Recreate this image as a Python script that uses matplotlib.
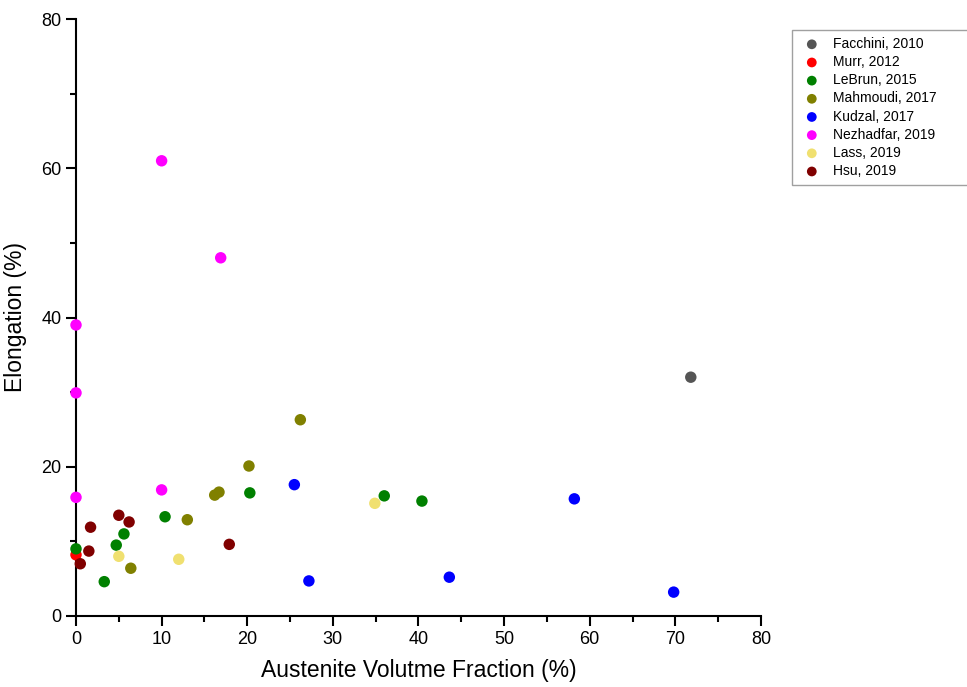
import matplotlib.pyplot as plt
from matplotlib.ticker import MultipleLocator

plt.rcParams['font.family'] = ['Liberation Sans', 'DejaVu Sans']

# data (austenite %, elongation %)
facchini_x = [71.8]
facchini_y = [32.0]
murr_x = [0.0]
murr_y = [8.2]
lebrun_x = [0.0, 3.3, 4.7, 5.6, 10.4, 20.3, 36.0, 40.4]
lebrun_y = [9.0, 4.6, 9.5, 11.0, 13.3, 16.5, 16.1, 15.4]
mahmoudi_x = [6.4, 13.0, 16.2, 16.7, 20.2, 26.2]
mahmoudi_y = [6.4, 12.9, 16.2, 16.6, 20.1, 26.3]
kudzal_x = [25.5, 27.2, 43.6, 58.2, 69.8]
kudzal_y = [17.6, 4.7, 5.2, 15.7, 3.2]
nezhadfar_x = [0.0, 0.0, 0.0, 10.0, 16.9, 10.0]
nezhadfar_y = [39.0, 29.9, 15.9, 61.0, 48.0, 16.9]
lass_x = [5.0, 12.0, 34.9]
lass_y = [8.0, 7.6, 15.1]
hsu_x = [0.5, 1.5, 1.7, 5.0, 6.2, 17.9]
hsu_y = [7.0, 8.7, 11.9, 13.5, 12.6, 9.6]

series = [
    ('Facchini, 2010', facchini_x, facchini_y, '#555555'),
    ('Murr, 2012', murr_x, murr_y, '#ff0000'),
    ('LeBrun, 2015', lebrun_x, lebrun_y, '#008000'),
    ('Mahmoudi, 2017', mahmoudi_x, mahmoudi_y, '#808000'),
    ('Kudzal, 2017', kudzal_x, kudzal_y, '#0000ff'),
    ('Nezhadfar, 2019', nezhadfar_x, nezhadfar_y, '#ff00ff'),
    ('Lass, 2019', lass_x, lass_y, '#f0e070'),
    ('Hsu, 2019', hsu_x, hsu_y, '#800000'),
]

W, H = 967, 687
fig = plt.figure(figsize=(W / 100, H / 100), dpi=100)
ax = fig.add_axes([76 / W, 1 - 616 / H, 685 / W, 597 / H])

for name, xs, ys, c in series:
    ax.scatter(xs, ys, s=68, color=c, label=name, edgecolors='none', zorder=3, clip_on=False)

ax.set_xlim(0, 80)
ax.set_ylim(0, 80)
ax.xaxis.set_major_locator(MultipleLocator(10))
ax.xaxis.set_minor_locator(MultipleLocator(5))
ax.yaxis.set_major_locator(MultipleLocator(20))
ax.yaxis.set_minor_locator(MultipleLocator(10))
ax.spines['top'].set_visible(False)
ax.spines['right'].set_visible(False)
for s in ['left', 'bottom']:
    ax.spines[s].set_linewidth(1.5)
ax.tick_params(which='major', direction='out', length=7, width=1.5, labelsize=13)
ax.tick_params(which='minor', direction='out', length=4, width=1.5)

ax.set_xlabel('Austenite Volutme Fraction (%)', fontsize=16.5, labelpad=8)
ax.set_ylabel('Elongation (%)', fontsize=16.5, labelpad=10)

# legend box sits outside the axes and runs off the right edge
leg = fig.legend(loc='upper left', mode='expand',
                 bbox_to_anchor=(792 / W, 1 - 183 / H, 185 / W, 153 / H),
                 fontsize=10, frameon=True, fancybox=False, edgecolor='#888888',
                 handletextpad=0.6, borderpad=0.5, labelspacing=0.3,
                 markerscale=0.85, handlelength=1.85, borderaxespad=0)
leg.get_frame().set_linewidth(1.0)

fig.savefig('out.png', dpi=100)
